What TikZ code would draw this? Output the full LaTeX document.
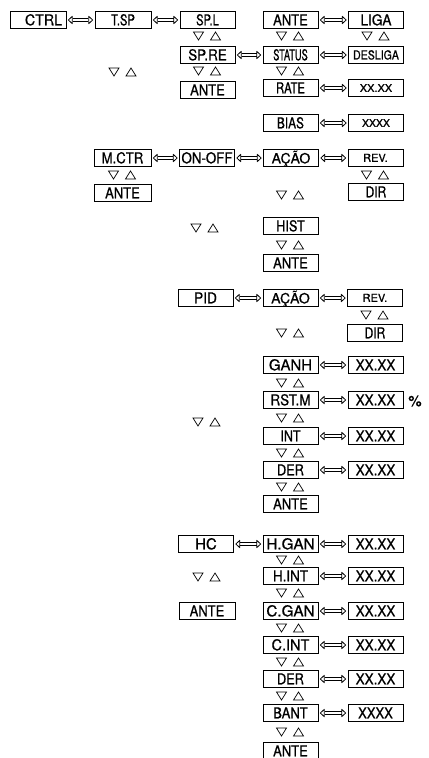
\documentclass[tikz,border=0pt]{standalone}
\usepackage{fontspec}
\setmainfont{TeX Gyre Heros}[FakeBold=0.8]
\usepackage{graphicx}
\usetikzlibrary{arrows.meta}
\newcommand{\sx}[2]{\scalebox{#1}[1]{#2}}
\begin{document}
\begin{tikzpicture}[x=1bp,y=-1bp,
  box/.style={draw, line width=0.8bp, minimum width=55bp, minimum height=17bp, inner sep=0pt,
    font=\fontsize{15}{15}\selectfont, text height=10.6bp, text depth=0bp},
  sbox/.style={box, font=\fontsize{10.5}{10.5}\selectfont, text height=7.6bp},
  mbox/.style={box, font=\fontsize{12.5}{12.5}\selectfont, text height=9bp},
  dar/.style={double, double distance=2.4bp, line width=0.8bp,
    {Triangle[open, length=5bp, width=9bp, line width=0.8bp, round]}-{Triangle[open, length=5bp, width=9bp, line width=0.8bp, round]},
    shorten <=1.5bp, shorten >=1.5bp},
  updown/.pic={\draw[line width=0.7bp] (-14,-4) -- (-4,-4) -- (-9,4) -- cycle (3,4) -- (13,4) -- (8,-4) -- cycle;}
]
\useasboundingbox (0,0) rectangle (428,758);
% row 1
\node[box, minimum width=56bp] (ctrl) at (38,20) {\hspace*{11bp}\sx{0.95}{CTRL}};
\node[box, minimum width=56bp] (tsp) at (123,20) {\sx{0.75}{T.SP}};
\node[box] (spl) at (207.5,20) {\sx{0.75}{SP.L}};
\node[box] (anteA) at (290.5,20) {\sx{0.87}{ANTE}};
\node[box] (liga) at (376,20) {\sx{0.91}{LIGA}};
\draw[dar] (ctrl) -- (tsp);
\draw[dar] (tsp) -- (spl);
\draw[dar] (anteA) -- (liga);
\pic at (207.5,36) {updown};
\pic at (290.5,36) {updown};
\pic at (376,36) {updown};
\pic at (123,72) {updown};
% row 2
\node[box] (spre) at (207.5,55) {\sx{0.9}{SP.RE}};
\node[box] (status) at (290.5,55) {\sx{0.62}{STATUS}};
\node[mbox] (desliga) at (376,55) {\sx{0.85}{DESLIGA}};
\draw[dar] (spre) -- (status);
\draw[dar] (status) -- (desliga);
\pic at (207.5,71) {updown};
\pic at (290.5,71) {updown};
% row 3
\node[box] (anteB) at (207.5,90) {\sx{0.87}{ANTE}};
\node[box] (rate) at (290.5,88) {\sx{0.75}{RATE}};
\node[sbox] (xxA) at (376,88) {\sx{1.05}{XX.XX}};
\draw[dar] (rate) -- (xxA);
\node[box] (bias) at (290.5,123) {\sx{0.79}{BIAS}};
\node[sbox] (xxxxA) at (376,123) {XXXX};
\draw[dar] (bias) -- (xxxxA);
% M.CTR
\node[box, minimum width=57bp] (mctr) at (122.5,158) {\sx{0.88}{M.CTR}};
\node[box] (onoff) at (207,158) {\sx{0.89}{ON-OFF}};
\node[box, font=\fontsize{14}{14}\selectfont] (acaoA) at (291,158) {AÇÃO};
\node[sbox, font=\fontsize{11}{11}\selectfont] (revA) at (375.5,158) {REV.};
\draw[dar] (mctr) -- (onoff);
\draw[dar] (onoff) -- (acaoA);
\draw[dar] (acaoA) -- (revA);
\pic at (122.5,175) {updown};
\pic at (375.5,175) {updown};
\node[box, minimum width=57bp] (anteC) at (122.5,193) {\sx{0.87}{ANTE}};
\node[box] (dirA) at (376,192) {\sx{0.8}{DIR}};
\pic at (290.5,195) {updown};
\pic at (205,228) {updown};
\node[box] (hist) at (290.5,226) {\sx{0.85}{HIST}};
\pic at (290.5,245) {updown};
\node[box] (anteD) at (290.5,263) {\sx{0.87}{ANTE}};
% PID
\node[box] (pid) at (205.5,298) {\sx{0.92}{PID}};
\node[box, font=\fontsize{14}{14}\selectfont] (acaoB) at (290.5,298) {AÇÃO};
\node[sbox, font=\fontsize{11}{11}\selectfont] (revB) at (375,298) {REV.};
\draw[dar] (pid) -- (acaoB);
\draw[dar] (acaoB) -- (revB);
\pic at (375,315) {updown};
\node[box] (dirB) at (375,333) {\sx{0.8}{DIR}};
\pic at (290.5,333) {updown};
\node[box] (ganh) at (290.5,365) {GANH};
\node[box] (xxB) at (375.5,365) {\sx{0.9}{XX.XX}};
\draw[dar] (ganh) -- (xxB);
\pic at (290.5,383) {updown};
\node[box] (rstm) at (290.5,400) {\sx{0.9}{RST.M}};
\node[box] (xxC) at (375.5,400) {\sx{0.9}{XX.XX}};
\node[font=\fontsize{15}{15}\selectfont, inner sep=0pt] (pct) at (415,401) {\%};
\draw[dar] (rstm) -- (xxC);
\pic at (290.5,418) {updown};
\pic at (207,422) {updown};
\node[box] (int) at (290.5,436) {\sx{0.83}{INT}};
\node[box] (xxD) at (375.5,436) {\sx{0.9}{XX.XX}};
\draw[dar] (int) -- (xxD);
\pic at (290.5,453) {updown};
\node[box] (derA) at (290.5,470) {\sx{0.85}{DER}};
\node[box] (xxE) at (375.5,470) {\sx{0.9}{XX.XX}};
\draw[dar] (derA) -- (xxE);
\pic at (290.5,487) {updown};
\node[box] (anteE) at (290.5,504) {\sx{0.87}{ANTE}};
% HC
\node[box] (hc) at (206,544) {HC};
\node[box] (hgan) at (290.5,544) {\sx{1.02}{H.GAN}};
\node[box] (xxF) at (375.5,544) {\sx{0.9}{XX.XX}};
\draw[dar] (hc) -- (hgan);
\draw[dar] (hgan) -- (xxF);
\pic at (290.5,560) {updown};
\node[box] (hint) at (290.5,576) {\sx{0.9}{H.INT}};
\node[box] (xxG) at (375.5,576) {\sx{0.9}{XX.XX}};
\draw[dar] (hint) -- (xxG);
\pic at (207,577) {updown};
\pic at (290.5,593) {updown};
\node[box] (cgan) at (290.5,611) {\sx{1.02}{C.GAN}};
\node[box] (xxH) at (375.5,611) {\sx{0.9}{XX.XX}};
\node[box, minimum width=56bp] (anteF) at (207,611) {\sx{0.87}{ANTE}};
\draw[dar] (cgan) -- (xxH);
\pic at (290.5,628) {updown};
\node[box] (cint) at (290.5,645) {\sx{0.97}{C.INT}};
\node[box] (xxI) at (375.5,645) {\sx{0.9}{XX.XX}};
\draw[dar] (cint) -- (xxI);
\pic at (290.5,662) {updown};
\node[box] (derB) at (290.5,679) {\sx{0.85}{DER}};
\node[box] (xxJ) at (375.5,679) {\sx{0.9}{XX.XX}};
\draw[dar] (derB) -- (xxJ);
\pic at (290.5,696) {updown};
\node[box] (bant) at (290.5,713) {\sx{0.87}{BANT}};
\node[box] (xxxxB) at (375.5,713) {\sx{0.87}{XXXX}};
\draw[dar] (bant) -- (xxxxB);
\pic at (290.5,732) {updown};
\node[box] (anteG) at (290.5,751) {\sx{0.87}{ANTE}};
\end{tikzpicture}
\end{document}
